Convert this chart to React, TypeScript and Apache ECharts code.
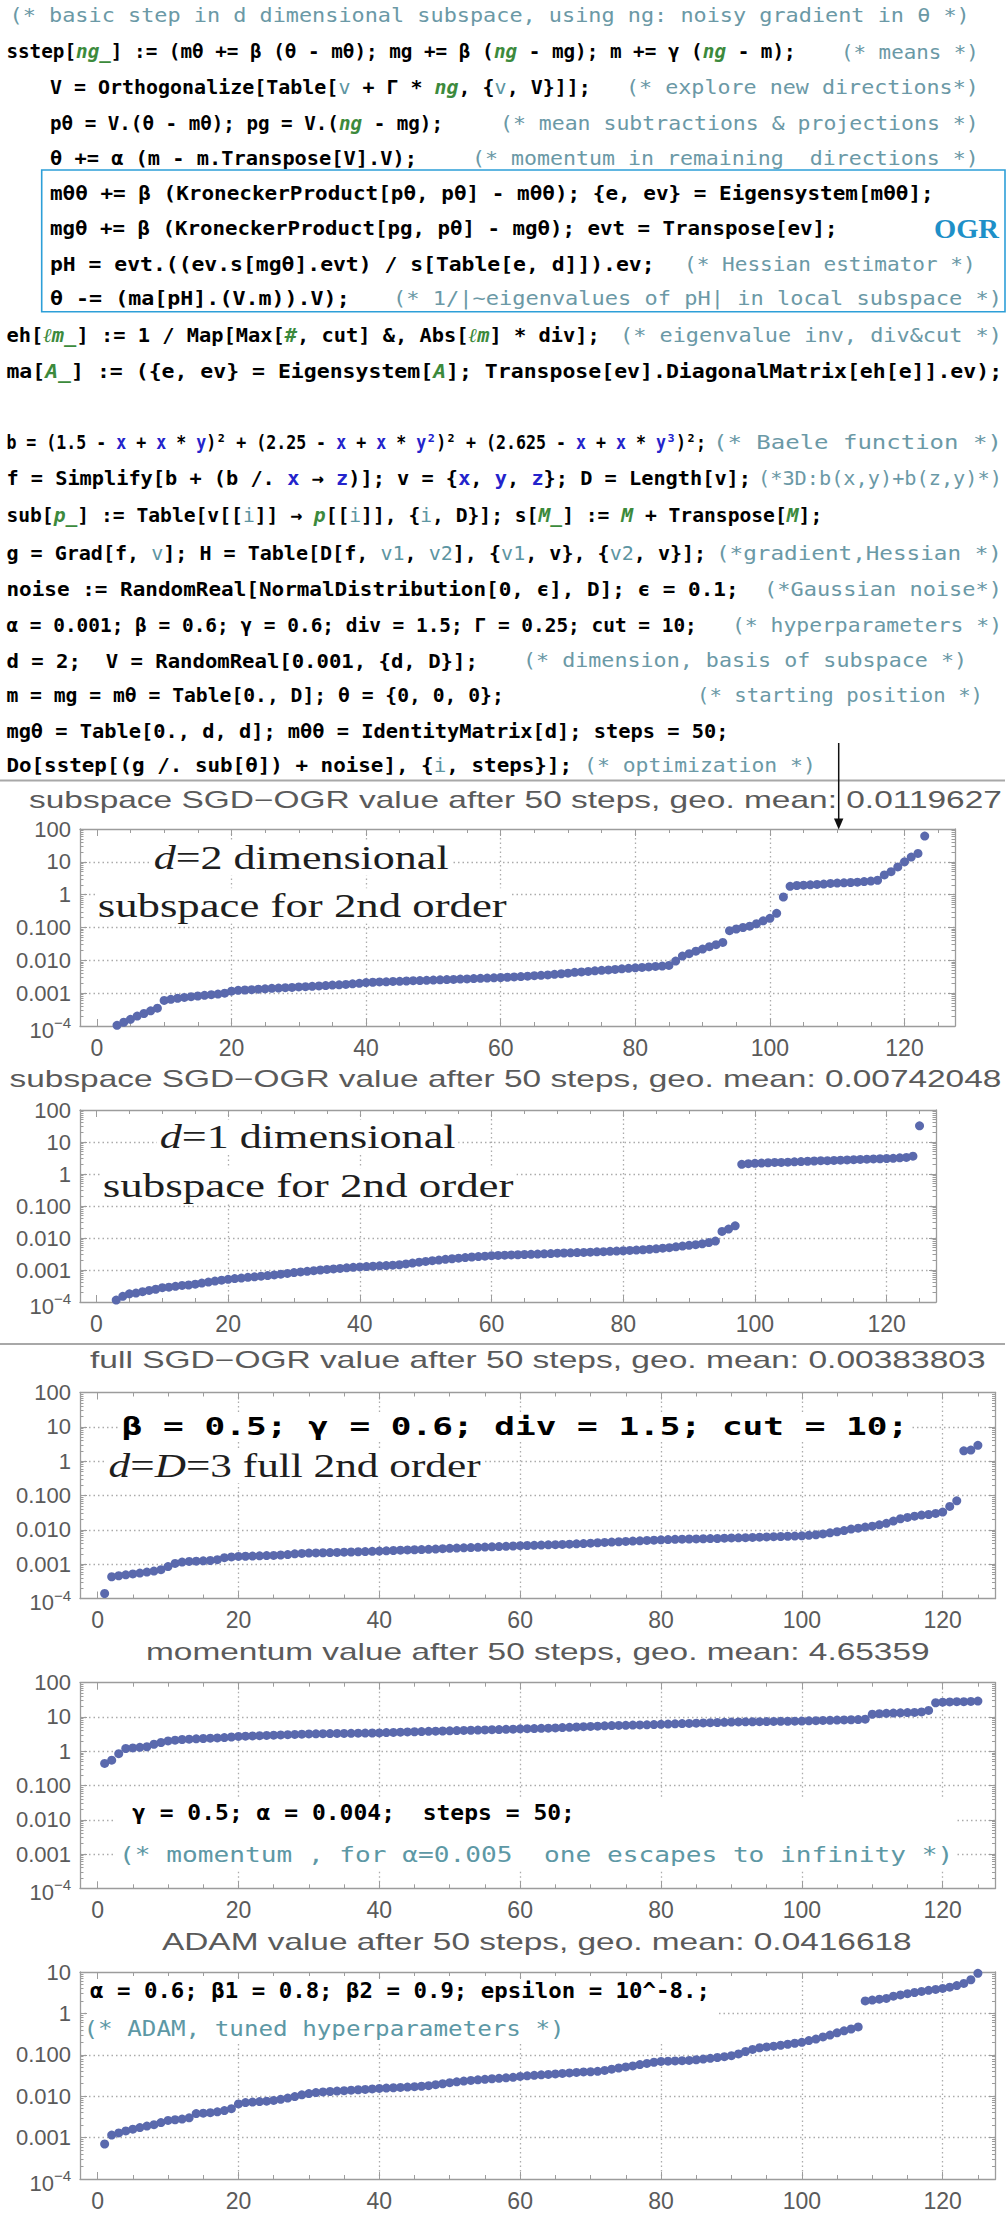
import React, { useEffect, useRef } from "react";
import * as echarts from "echarts";

// ------------------------------------------------------------------
// DATA: sorted objective values after 50 steps
// ------------------------------------------------------------------
const SUB_D2_X0 = 3; // first visible index of chart 1
const SUB_D2 = [
  1.05e-4, 1.3e-4, 1.6e-4, 2.0e-4, 2.4e-4, 2.9e-4, 3.5e-4,
  6.0e-4, 6.5e-4, 7.0e-4, 7.4e-4, 7.8e-4, 8.2e-4, 8.6e-4, 9.0e-4, 9.4e-4, 1.0e-3,
  1.15e-3, 1.22e-3, 1.25e-3, 1.28e-3, 1.32e-3, 1.36e-3, 1.4e-3, 1.43e-3, 1.47e-3, 1.5e-3,
  1.55e-3, 1.58e-3, 1.62e-3, 1.66e-3, 1.7e-3, 1.76e-3, 1.8e-3, 1.85e-3, 1.92e-3, 2.0e-3, 2.1e-3,
  2.15e-3, 2.2e-3, 2.22e-3, 2.27e-3, 2.3e-3, 2.35e-3, 2.4e-3, 2.42e-3, 2.47e-3, 2.5e-3,
  2.55e-3, 2.6e-3, 2.63e-3, 2.68e-3, 2.72e-3, 2.78e-3, 2.83e-3, 2.88e-3, 2.94e-3, 3.0e-3,
  3.05e-3, 3.12e-3, 3.2e-3, 3.3e-3, 3.4e-3, 3.5e-3, 3.6e-3, 3.75e-3, 3.9e-3, 4.05e-3, 4.3e-3,
  4.45e-3, 4.6e-3, 4.8e-3, 4.95e-3, 5.1e-3, 5.3e-3, 5.5e-3, 5.7e-3, 5.9e-3,
  6.1e-3, 6.3e-3, 6.5e-3, 6.7e-3, 7.0e-3,
  0.0095, 0.0135, 0.016, 0.019, 0.022, 0.026, 0.03, 0.035,
  0.08, 0.09, 0.1, 0.11, 0.13, 0.16, 0.19, 0.27,
  0.85, 1.8,
  1.9, 1.95, 2.0, 2.05, 2.1, 2.2, 2.25, 2.3, 2.35, 2.4, 2.5, 2.6, 2.75,
  4, 5, 7, 10, 14, 18, 61,
];

const SUB_D1_X0 = 3;
const SUB_D1 = [
  1.15e-4, 1.5e-4, 1.8e-4, 1.9e-4, 2.1e-4, 2.3e-4, 2.5e-4, 2.8e-4, 2.9e-4, 3.1e-4, 3.3e-4,
  3.4e-4, 3.6e-4, 3.9e-4, 4.2e-4, 4.5e-4, 4.8e-4,
  5.1e-4, 5.4e-4, 5.6e-4, 5.9e-4, 6.1e-4, 6.4e-4, 6.7e-4, 7.0e-4, 7.4e-4, 7.8e-4, 8.3e-4,
  8.7e-4, 9.1e-4, 9.5e-4, 1.0e-3, 1.04e-3, 1.08e-3, 1.12e-3, 1.17e-3, 1.21e-3, 1.25e-3,
  1.28e-3, 1.31e-3, 1.35e-3, 1.38e-3, 1.42e-3, 1.46e-3, 1.55e-3, 1.65e-3, 1.75e-3, 1.85e-3,
  1.95e-3, 2.05e-3, 2.15e-3, 2.25e-3, 2.35e-3, 2.45e-3, 2.55e-3, 2.63e-3, 2.7e-3, 2.8e-3,
  2.85e-3, 2.9e-3, 2.95e-3, 3.0e-3, 3.05e-3, 3.1e-3, 3.15e-3, 3.2e-3, 3.25e-3, 3.35e-3,
  3.4e-3, 3.45e-3, 3.5e-3, 3.55e-3, 3.6e-3, 3.7e-3, 3.75e-3, 3.82e-3, 3.9e-3, 4.0e-3,
  4.1e-3, 4.2e-3, 4.3e-3, 4.45e-3, 4.6e-3, 4.8e-3, 5.0e-3, 5.3e-3, 5.6e-3, 5.9e-3,
  6.2e-3, 6.6e-3, 7.2e-3, 8.0e-3,
  0.016, 0.019, 0.024,
  2.0, 2.1, 2.15, 2.2, 2.25, 2.3, 2.3, 2.35, 2.4, 2.45, 2.5, 2.55, 2.6, 2.6, 2.65, 2.7,
  2.75, 2.8, 2.85, 2.9, 2.95, 3.0, 3.05, 3.1, 3.2, 3.3, 3.6,
  32,
];

const FULL_X0 = 1;
const FULL_OGR = [
  1.4e-4,
  4.3e-4, 4.6e-4, 4.9e-4, 5.2e-4, 5.5e-4, 5.9e-4, 6.3e-4, 6.9e-4,
  8.5e-4, 1.05e-3, 1.15e-3, 1.2e-3, 1.22e-3, 1.25e-3, 1.28e-3, 1.35e-3, 1.55e-3, 1.62e-3, 1.68e-3,
  1.7e-3, 1.72e-3, 1.75e-3, 1.78e-3, 1.8e-3, 1.85e-3, 1.9e-3, 2.0e-3, 2.05e-3, 2.1e-3,
  2.12e-3, 2.15e-3, 2.18e-3, 2.2e-3, 2.23e-3, 2.26e-3, 2.3e-3, 2.33e-3, 2.37e-3, 2.4e-3,
  2.45e-3, 2.5e-3, 2.55e-3, 2.6e-3, 2.63e-3, 2.67e-3, 2.7e-3, 2.75e-3, 2.82e-3, 2.9e-3,
  2.95e-3, 3.0e-3, 3.05e-3, 3.1e-3, 3.15e-3, 3.2e-3, 3.25e-3, 3.3e-3, 3.38e-3, 3.45e-3,
  3.5e-3, 3.55e-3, 3.6e-3, 3.65e-3, 3.7e-3, 3.75e-3, 3.82e-3, 3.9e-3, 3.98e-3, 4.1e-3,
  4.2e-3, 4.3e-3, 4.4e-3, 4.5e-3, 4.6e-3, 4.7e-3, 4.8e-3, 4.9e-3, 5.0e-3, 5.1e-3,
  5.2e-3, 5.3e-3, 5.35e-3, 5.4e-3, 5.45e-3, 5.5e-3, 5.55e-3, 5.6e-3, 5.7e-3, 5.8e-3,
  5.85e-3, 5.9e-3, 6.0e-3, 6.1e-3, 6.2e-3, 6.3e-3, 6.4e-3, 6.5e-3, 6.6e-3, 6.7e-3,
  6.9e-3, 7.2e-3, 7.6e-3, 8.2e-3, 8.8e-3, 9.5e-3,
  0.0105, 0.0112, 0.012, 0.0128, 0.014, 0.0155, 0.018, 0.021, 0.023, 0.025, 0.027, 0.028,
  0.03, 0.033, 0.048, 0.07,
  2.0, 2.1, 2.9,
];

const MOMENTUM_X0 = 1;
const MOMENTUM = [
  0.44, 0.55, 0.85, 1.2, 1.25, 1.3, 1.35, 1.6, 1.8, 2.0,
  2.1, 2.2, 2.25, 2.3, 2.35, 2.4, 2.45, 2.5, 2.6, 2.7,
  2.75, 2.8, 2.85, 2.9, 2.95, 3.0, 3.05, 3.1, 3.15, 3.2, 3.22, 3.25, 3.27, 3.3, 3.32, 3.34, 3.36, 3.38, 3.4, 3.42,
  3.5, 3.55, 3.6, 3.65, 3.7, 3.75, 3.8, 3.85, 3.9, 3.95, 4.0, 4.05, 4.1, 4.15, 4.2, 4.25, 4.3, 4.35, 4.4, 4.5,
  4.55, 4.6, 4.65, 4.7, 4.8, 4.9, 5.0, 5.1, 5.2, 5.3, 5.4, 5.5, 5.6, 5.65, 5.7, 5.8, 5.85, 5.9, 6.0, 6.1,
  6.2, 6.3, 6.4, 6.5, 6.6, 6.7, 6.8, 6.9, 7.0, 7.1, 7.15, 7.2, 7.25, 7.3, 7.35, 7.4, 7.45, 7.5, 7.55, 7.6,
  7.7, 7.8, 7.9, 8.0, 8.1, 8.2, 8.3, 8.4, 8.6,
  12.0, 12.5, 12.8, 13.0, 13.2, 13.4, 13.6, 14.0, 15.5,
  26, 27, 27.5, 28, 28, 28.5, 29,
];

const ADAM_X0 = 1;
const ADAM = [
  7e-4, 1.15e-3, 1.3e-3, 1.45e-3, 1.6e-3, 1.75e-3, 1.9e-3, 2.05e-3, 2.3e-3, 2.6e-3,
  2.7e-3, 2.8e-3, 3.0e-3, 3.8e-3, 3.9e-3, 4.0e-3, 4.2e-3, 4.5e-3, 5.0e-3, 6.5e-3,
  7.0e-3, 7.2e-3, 7.4e-3, 7.6e-3, 7.9e-3, 8.4e-3, 9.0e-3, 0.0098, 0.0108, 0.0116,
  0.0122, 0.0127, 0.013, 0.0133, 0.0136, 0.014, 0.0143, 0.0146, 0.015, 0.0154,
  0.0157, 0.016, 0.0163, 0.0166, 0.017, 0.0174, 0.018, 0.019, 0.02, 0.0212,
  0.0222, 0.0232, 0.024, 0.0248, 0.0256, 0.0264, 0.027, 0.0278, 0.0285, 0.03,
  0.031, 0.032, 0.0328, 0.0336, 0.0345, 0.0355, 0.0365, 0.0375, 0.0385, 0.039,
  0.04, 0.042, 0.045, 0.048, 0.051, 0.054, 0.058, 0.062, 0.066, 0.069,
  0.07, 0.071, 0.072, 0.073, 0.076, 0.079, 0.082, 0.086, 0.09, 0.095,
  0.105, 0.12, 0.135, 0.148, 0.155, 0.162, 0.17, 0.18, 0.19, 0.2,
  0.22, 0.24, 0.27, 0.3, 0.34, 0.38, 0.42, 0.47,
  2.0, 2.1, 2.2, 2.3, 2.6, 2.8, 3.0, 3.2, 3.4, 3.6, 3.8, 4.0, 4.3, 4.7, 5.3, 6.5, 9.3,
];

const SERIES_VALUES = [SUB_D2, SUB_D1, FULL_OGR, MOMENTUM, ADAM];
const SERIES_X0 = [SUB_D2_X0, SUB_D1_X0, FULL_X0, MOMENTUM_X0, ADAM_X0];
const Y_MAX = [100, 100, 100, 100, 10];
const X_MIN = -2.5;
const X_MAX = 127.5;

const TITLES = [
  "subspace SGD−OGR value after 50 steps, geo. mean: 0.0119627",
  "subspace SGD−OGR value after 50 steps, geo. mean: 0.00742048",
  "full SGD−OGR value after 50 steps, geo. mean: 0.00383803",
  "momentum value after 50 steps, geo. mean: 4.65359",
  "ADAM value after 50 steps, geo. mean: 0.0416618",
];

const Y_LABELS: Record<number, string> = {
  2: "100",
  1: "10",
  0: "1",
  [-1]: "0.100",
  [-2]: "0.010",
  [-3]: "0.001",
  [-4]: "{a|10}{s|−4}",
};

// Mathematica code (rich markup: {g|..} pattern vars, {b|..} globals, {t|..} locals)
const CODE_LINES = [
  "",
  "sstep[{g|ng_}] := (mθ += β (θ - mθ); mg += β ({g|ng} - mg); m += γ ({g|ng} - m);",
  "V = Orthogonalize[Table[{t|v} + Γ * {g|ng}, {{t|v}, V}]];",
  "pθ = V.(θ - mθ); pg = V.({g|ng} - mg);",
  "θ += α (m - m.Transpose[V].V);",
  "mθθ += β (KroneckerProduct[pθ, pθ] - mθθ); {e, ev} = Eigensystem[mθθ];",
  "mgθ += β (KroneckerProduct[pg, pθ] - mgθ); evt = Transpose[ev];",
  "pH = evt.((ev.s[mgθ].evt) / s[Table[e, d]]).ev;",
  "θ -= (ma[pH].(V.m)).V);",
  "eh[{g|ℓm_}] := 1 / Map[Max[{g|#}, cut] &, Abs[{g|ℓm}] * div];",
  "ma[{g|A_}] := ({e, ev} = Eigensystem[{g|A}]; Transpose[ev].DiagonalMatrix[eh[e]].ev);",
  "b = (1.5 - {b|x} + {b|x} * {b|y})² + (2.25 - {b|x} + {b|x} * {b|y²})² + (2.625 - {b|x} + {b|x} * {b|y³})²;",
  "f = Simplify[b + (b /. {b|x} → {b|z})]; v = {{b|x}, {b|y}, {b|z}}; D = Length[v];",
  "sub[{g|p_}] := Table[v[[{t|i}]] → {g|p}[[{t|i}]], {{t|i}, D}]; s[{g|M_}] := {g|M} + Transpose[{g|M}];",
  "g = Grad[f, {t|v}]; H = Table[D[f, {t|v1}, {t|v2}], {{t|v1}, v}, {{t|v2}, v}];",
  "noise := RandomReal[NormalDistribution[0, ϵ], D]; ϵ = 0.1;",
  "α = 0.001; β = 0.6; γ = 0.6; div = 1.5; Γ = 0.25; cut = 10;",
  "d = 2;  V = RandomReal[0.001, {d, D}];",
  "m = mg = mθ = Table[0., D]; θ = {0, 0, 0};",
  "mgθ = Table[0., d, d]; mθθ = IdentityMatrix[d]; steps = 50;",
  "Do[sstep[(g /. sub[θ]) + noise], {{t|i}, steps}];",
];
const CODE_COMMENTS = [
  "(* basic step in d dimensional subspace, using ng: noisy gradient in θ *)",
  "(* means *)",
  "(* explore new directions*)",
  "(* mean subtractions & projections *)",
  "(* momentum in remaining  directions *)",
  "",
  "",
  "(* Hessian estimator *)",
  "(* 1/|~eigenvalues of pH| in local subspace *)",
  "(* eigenvalue inv, div&cut *)",
  "",
  "(* Baele function *)",
  "(*3D:b(x,y)+b(z,y)*)",
  "",
  "(*gradient,Hessian *)",
  "(*Gaussian noise*)",
  "(* hyperparameters *)",
  "(* dimension, basis of subspace *)",
  "(* starting position *)",
  "",
  "(* optimization *)",
];

// ------------------------------------------------------------------
// LAYOUT (pixels)
// ------------------------------------------------------------------
const W = 1007;
const H = 2214;
// [centerY, codeX0, codeX1, commentX0, commentX1]
const CODE_LAYOUT: number[][] = [
  [15, 0, 0, 9.6, 970],
  [51.7, 6.4, 796, 841, 979],
  [87.3, 50, 591, 626, 979],
  [123.3, 50, 443, 500, 979],
  [158.3, 50, 417, 472, 979],
  [193.3, 50, 934, 0, 0],
  [228.3, 50, 838, 0, 0],
  [264, 50, 655, 684, 976],
  [298.3, 50, 350, 393, 1002],
  [335, 6.4, 600, 620, 1002],
  [371.7, 6.4, 1002, 0, 0],
  [441.7, 6.4, 706, 713, 1002],
  [478.3, 6.4, 751, 758, 1002],
  [515, 6.4, 822, 0, 0],
  [553.3, 6.4, 706, 716, 1002],
  [589.3, 6.4, 739, 764, 1002],
  [625, 6.4, 697, 732, 1002],
  [660.7, 6.4, 478, 523, 967],
  [695, 6.4, 504, 697, 983],
  [731, 6.4, 729, 0, 0],
  [765, 6.4, 572, 584, 816],
];
// [left, top, width, height]
const GRID_BOXES = [
  [80, 829, 875, 197],
  [80, 1110, 856, 192],
  [80, 1392.5, 915.5, 206],
  [80, 1682.7, 915.5, 205.6],
  [80, 1972, 915.5, 207],
];
// [x0, x1, centerY]
const TITLE_LAYOUT = [
  [29, 1002, 800],
  [9.6, 1002, 1079],
  [90, 986, 1360],
  [146, 930, 1651.7],
  [162, 912, 1941.7],
];

const MONO = '"DejaVu Sans Mono", monospace';
const SANS = '"Liberation Sans", Arial, sans-serif';
const SERIF = '"Liberation Serif", "Times New Roman", serif';
const FRAME = "#9c9c9c";
const GRIDC = "#ababab";
const LABEL = "#5a5a5a";
const DOT = "#5a69ad";
const TEAL = "#6b99a6";
const NONE = "rgba(0,0,0,0)";

type Font = { size: number; family: string; weight?: string; style?: string; fill: string };

let measureCtx: CanvasRenderingContext2D | null = null;
function fontStr(f: Font) {
  return `${f.style || "normal"} ${f.weight || "normal"} ${f.size}px ${f.family}`;
}
function textWidth(t: string, f: Font) {
  if (!measureCtx) measureCtx = document.createElement("canvas").getContext("2d");
  if (!measureCtx) return t.length * f.size * 0.6;
  measureCtx.font = fontStr(f);
  return measureCtx.measureText(t).width;
}
function parseSegs(s: string): [string, string][] {
  const out: [string, string][] = [];
  const re = /\{([a-zA-Z0-9_]+)\|([^}]*)\}/g;
  let last = 0;
  let m: RegExpExecArray | null;
  while ((m = re.exec(s))) {
    if (m.index > last) out.push(["", s.slice(last, m.index)]);
    out.push([m[1], m[2]]);
    last = re.lastIndex;
  }
  if (last < s.length) out.push(["", s.slice(last)]);
  return out;
}
function fitText(
  rich: string,
  x0: number,
  x1: number,
  yc: number,
  base: Font,
  styles: Record<string, Partial<Font>> = {},
  extra: any = {},
  z = 10
) {
  const segs = parseSegs(rich);
  let w = 0;
  for (const [k, t] of segs) w += textWidth(t, k ? { ...base, ...styles[k] } : base);
  const richOut: any = {};
  Object.keys(styles).forEach((k) => {
    const f = { ...base, ...styles[k] };
    richOut[k] = {
      fill: f.fill,
      fontSize: f.size,
      fontFamily: f.family,
      fontWeight: f.weight || "normal",
      fontStyle: f.style || "normal",
    };
  });
  return {
    type: "text",
    x: x0,
    y: yc,
    scaleX: (x1 - x0) / Math.max(1, w),
    z,
    style: {
      text: rich,
      fill: base.fill,
      fontSize: base.size,
      fontFamily: base.family,
      fontWeight: base.weight || "normal",
      fontStyle: base.style || "normal",
      align: "left",
      verticalAlign: "middle",
      textAlign: "left",
      textVerticalAlign: "middle",
      rich: richOut,
      ...extra,
    },
  };
}

function buildOption() {
  const codeBase: Font = { size: 20, family: MONO, weight: "bold", fill: "#000" };
  const codeStyles: Record<string, Partial<Font>> = {
    g: { fill: "#3c8a3c", style: "italic" },
    b: { fill: "#2323cc" },
    t: { fill: "#5c95a2", weight: "normal" },
  };
  const cmtBase: Font = { size: 20, family: MONO, fill: TEAL };

  const graphics: any[] = [];
  CODE_LINES.forEach((line, i) => {
    const [y, c0, c1, k0, k1] = CODE_LAYOUT[i];
    if (line) graphics.push(fitText(line, c0, c1, y, codeBase, codeStyles));
    const cm = CODE_COMMENTS[i];
    if (cm) graphics.push(fitText(cm, k0, k1, y, cmtBase));
  });

  // OGR box
  graphics.push({
    type: "rect",
    z: 10,
    shape: { x: 41.7, y: 170, width: 963.3, height: 141.7 },
    style: { fill: "none", stroke: "#2d9fd8", lineWidth: 1.6 },
  });
  graphics.push(fitText("OGR", 934, 999, 229, { size: 27, family: SERIF, weight: "bold", fill: "#1e90c8" }));

  // separators
  [780.5, 1344].forEach((y) =>
    graphics.push({
      type: "line",
      z: 10,
      shape: { x1: 0, y1: y, x2: 1005, y2: y },
      style: { stroke: "#a8a8a8", lineWidth: 2 },
    })
  );

  // arrow
  graphics.push({
    type: "line",
    z: 11,
    shape: { x1: 838.7, y1: 743, x2: 838.7, y2: 821 },
    style: { stroke: "#111", lineWidth: 1.5 },
  });
  graphics.push({
    type: "polygon",
    z: 11,
    shape: { points: [[834, 818.5], [843.4, 818.5], [838.7, 829.5]] },
    style: { fill: "#111" },
  });

  // titles
  TITLES.forEach((t, i) => {
    const [x0, x1, y] = TITLE_LAYOUT[i];
    graphics.push(fitText(t, x0, x1, y, { size: 23, family: SANS, fill: LABEL }));
  });

  // annotations
  const serif: Font = { size: 33, family: SERIF, fill: "#1e1e1e" };
  const ital = { i: { style: "italic" } };
  const bg = { backgroundColor: "#fff", padding: [1, 2] };
  graphics.push(fitText("{i|d}=2 dimensional", 151, 446, 858, serif, ital, bg));
  graphics.push(fitText("subspace for 2nd order", 95, 504, 905.7, serif, ital, bg));
  graphics.push(fitText("{i|d}=1 dimensional", 157, 453, 1137, serif, ital, bg));
  graphics.push(fitText("subspace for 2nd order", 100, 511, 1185.7, serif, ital, bg));
  graphics.push(
    fitText("β = 0.5; γ = 0.6; div = 1.5; cut = 10;", 119, 906, 1426,
      { size: 25, family: MONO, weight: "bold", fill: "#000" }, {}, bg)
  );
  graphics.push(fitText("{i|d}={i|D}=3 full 2nd order", 106, 478, 1465.7, serif, ital, bg));

  // white inset panels for charts 4 and 5
  graphics.push({ type: "rect", z: 9, shape: { x: 116, y: 1798, width: 841, height: 72 }, style: { fill: "#fff" } });
  graphics.push({ type: "rect", z: 9, shape: { x: 88, y: 1979, width: 628, height: 62 }, style: { fill: "#fff" } });
  const boldMono: Font = { size: 22, family: MONO, weight: "bold", fill: "#000" };
  const cmt22: Font = { size: 22, family: MONO, fill: "#5d98a5" };
  graphics.push(fitText("γ = 0.5; α = 0.004;  steps = 50;", 132, 575, 1811.7, boldMono));
  graphics.push(fitText("(* momentum , for α=0.005  one escapes to infinity *)", 119, 954, 1855, cmt22));
  graphics.push(fitText("α = 0.6; β1 = 0.8; β2 = 0.9; epsilon = 10^-8.;", 90, 710, 1990, boldMono));
  graphics.push(fitText("(* ADAM, tuned hyperparameters *)", 83.5, 565, 2028, cmt22));

  // grids & axes
  const grid: any[] = [];
  const xAxis: any[] = [];
  const yAxis: any[] = [];
  const series: any[] = [];
  const n = GRID_BOXES.length;
  const xSplitColors = [NONE, NONE, GRIDC, GRIDC, GRIDC, GRIDC, GRIDC, GRIDC, NONE, NONE];

  GRID_BOXES.forEach(([l, t, w, h]) => {
    grid.push({ left: l, top: t, width: w, height: h, containLabel: false, outerBoundsMode: "none" });
  });
  const tickStyle = { color: FRAME, width: 1 };
  // main (bottom/left) axes
  for (let i = 0; i < n; i++) {
    const decades = Math.round(Math.log10(Y_MAX[i])) + 4;
    const ySplitColors = [NONE];
    for (let k = 1; k < decades; k++) ySplitColors.push(GRIDC);
    ySplitColors.push(NONE);
    xAxis.push({
      gridIndex: i,
      type: "value",
      min: X_MIN,
      max: X_MAX,
      splitNumber: 6,
      position: "bottom",
      axisLine: { show: true, onZero: false, lineStyle: { color: FRAME, width: 1.3 } },
      axisTick: { show: true, inside: true, length: 7, lineStyle: tickStyle },
      minorTick: { show: true, splitNumber: 4, length: 4, lineStyle: tickStyle },
      axisLabel: {
        show: true,
        showMinLabel: false,
        showMaxLabel: false,
        fontSize: 23,
        fontFamily: SANS,
        color: LABEL,
        margin: 10,
        formatter: (v: number) => String(Math.round(v)),
      },
      splitLine: { show: true, lineStyle: { color: xSplitColors, width: 1.3, type: [1.5, 3] } },
    });
    yAxis.push({
      gridIndex: i,
      type: "log",
      logBase: 10,
      min: 1e-4,
      max: Y_MAX[i],
      position: "left",
      axisLine: { show: true, onZero: false, lineStyle: { color: FRAME, width: 1.3 } },
      axisTick: { show: true, inside: true, length: 7, lineStyle: tickStyle },
      minorTick: { show: true, splitNumber: 9, length: 3.5, lineStyle: tickStyle },
      axisLabel: {
        show: true,
        fontSize: 22,
        fontFamily: SANS,
        color: LABEL,
        margin: 9,
        formatter: (v: number) => Y_LABELS[Math.round(Math.log10(v))] ?? "",
        rich: {
          a: { fontSize: 22, fontFamily: SANS, color: LABEL, lineHeight: 22, padding: [8, 0, 0, 0] },
          s: { fontSize: 15, fontFamily: SANS, color: LABEL, lineHeight: 22, verticalAlign: "top" },
        },
      },
      splitLine: { show: true, lineStyle: { color: ySplitColors, width: 1.3, type: [1.5, 3] } },
    });
  }
  // secondary (top/right) frame axes
  for (let i = 0; i < n; i++) {
    xAxis.push({
      gridIndex: i,
      type: "value",
      min: X_MIN,
      max: X_MAX,
      splitNumber: 6,
      position: "top",
      axisLine: { show: true, onZero: false, lineStyle: { color: FRAME, width: 1.3 } },
      axisTick: { show: true, inside: true, length: 7, lineStyle: tickStyle },
      minorTick: { show: true, splitNumber: 4, length: 4, lineStyle: tickStyle },
      axisLabel: { show: false },
      splitLine: { show: false },
    });
    yAxis.push({
      gridIndex: i,
      type: "log",
      logBase: 10,
      min: 1e-4,
      max: Y_MAX[i],
      position: "right",
      axisLine: { show: true, onZero: false, lineStyle: { color: FRAME, width: 1.3 } },
      axisTick: { show: true, inside: true, length: 7, lineStyle: tickStyle },
      minorTick: { show: true, splitNumber: 9, length: 3.5, lineStyle: tickStyle },
      axisLabel: { show: false },
      splitLine: { show: false },
    });
  }
  SERIES_VALUES.forEach((vals, i) => {
    series.push({
      type: "scatter",
      xAxisIndex: i,
      yAxisIndex: i,
      symbol: "circle",
      symbolSize: 9,
      clip: true,
      itemStyle: { color: DOT, opacity: 1 },
      data: vals.map((v, k) => [SERIES_X0[i] + k, v]),
      z: 3,
    });
  });

  return {
    animation: false,
    backgroundColor: "#fff",
    grid,
    xAxis,
    yAxis,
    series,
    graphic: { elements: graphics },
  };
}

export default function App() {
  const ref = useRef<HTMLDivElement>(null);
  useEffect(() => {
    document.body.style.margin = "0";
    if (!ref.current) return;
    const chart = echarts.init(ref.current, null, { renderer: "svg" });
    chart.setOption(buildOption() as any);
    return () => chart.dispose();
  }, []);
  return <div ref={ref} style={{ width: W, height: H, background: "#fff" }} />;
}
